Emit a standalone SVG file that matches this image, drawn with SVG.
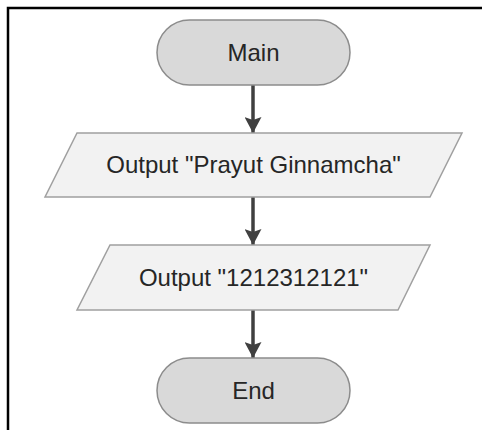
<svg xmlns="http://www.w3.org/2000/svg" width="482" height="430" viewBox="0 0 482 430">
<defs>
<style>
.term{fill:#d9d9d9;stroke:#8c8c8c;stroke-width:1.5}
.io{fill:#f2f2f2;stroke:#a0a0a0;stroke-width:1.5}
.lbl{font-family:"Liberation Sans",Arial,sans-serif;font-size:24px;fill:#262626;text-anchor:middle}
.edge{stroke:#404040;stroke-width:3.5;fill:none}
</style>
<marker id="arr" viewBox="0 0 16 17" markerWidth="16" markerHeight="17" refX="16" refY="8.5" orient="auto" markerUnits="userSpaceOnUse">
<path d="M0,0 L16,8.5 L0,17 L3,8.5 Z" fill="#404040"/>
</marker>
</defs>
<rect x="0" y="0" width="482" height="430" fill="#ffffff"/>
<path d="M8,430 V8 H482" fill="none" stroke="#000" stroke-width="2.5"/>
<g id="connectors">
<line class="edge" x1="253" y1="85" x2="253" y2="133" marker-end="url(#arr)"/>
<line class="edge" x1="253" y1="197" x2="253" y2="245" marker-end="url(#arr)"/>
<line class="edge" x1="253" y1="310" x2="253" y2="358" marker-end="url(#arr)"/>
</g>
<g id="main">
<rect class="term" x="157" y="20" width="193" height="65" rx="32.5"/>
<text class="lbl" x="253.5" y="61">Main</text>
</g>
<g id="output1">
<polygon class="io" points="77,133 462,133 430,197 45,197"/>
<text class="lbl" x="253.5" y="173">Output "Prayut Ginnamcha"</text>
</g>
<g id="output2">
<polygon class="io" points="110,245 430,245 398,310 77,310"/>
<text class="lbl" x="253.5" y="286">Output "1212312121"</text>
</g>
<g id="end">
<rect class="term" x="157" y="358" width="193" height="65" rx="32.5"/>
<text class="lbl" x="253.5" y="399">End</text>
</g>
</svg>
